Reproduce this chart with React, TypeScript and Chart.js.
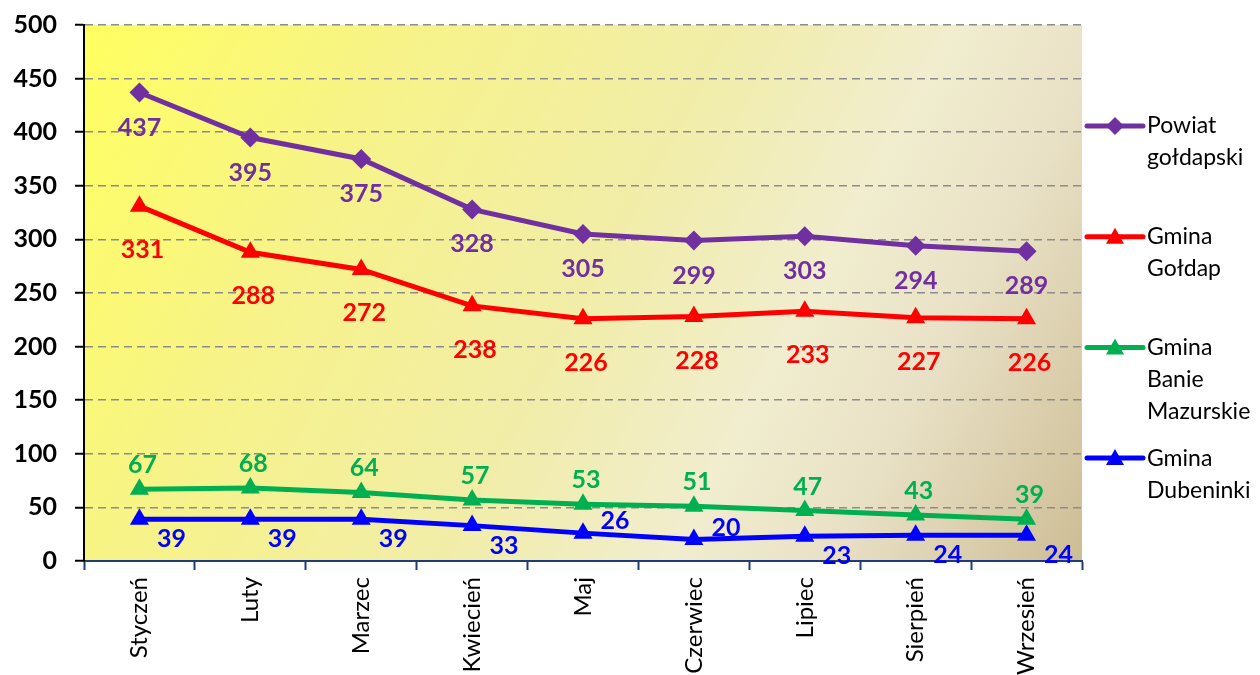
import React, { useEffect, useRef } from "react";
import { Chart, registerables } from "chart.js";

Chart.register(...registerables);

const categories = ["Styczeń", "Luty", "Marzec", "Kwiecień", "Maj", "Czerwiec", "Lipiec", "Sierpień", "Wrzesień"];
const powiat = [437, 395, 375, 328, 305, 299, 303, 294, 289];
const goldap = [331, 288, 272, 238, 226, 228, 233, 227, 226];
const banie = [67, 68, 64, 57, 53, 51, 47, 43, 39];
const dubeninki = [39, 39, 39, 33, 26, 20, 23, 24, 24];
const seriesNames = [["Powiat", "gołdapski"], ["Gmina", "Gołdap"], ["Gmina", "Banie", "Mazurskie"], ["Gmina", "Dubeninki"]];
const yMin = 0;
const yMax = 500;
const yStep = 50;

const FONT = "Lato, 'Open Sans', sans-serif";

// label placement per dataset (style)
const labelStyle = [
  { dx: 0, dy: 35, aboveIdx: [] as number[] },
  { dx: 3, dy: 44, aboveIdx: [] as number[] },
  { dx: 3, dy: -24, aboveIdx: [] as number[] },
  { dx: 32, dy: 20, aboveIdx: [4, 5] },
];

const bgPlugin = {
  id: "bgPlugin",
  beforeDraw(chart: any) {
    const { ctx, chartArea: a } = chart;
    const g = ctx.createLinearGradient(a.left, a.top, a.right, a.bottom);
    g.addColorStop(0, "#FFFF60");
    g.addColorStop(0.25, "#F7F388");
    g.addColorStop(0.5, "#F1EDA8");
    g.addColorStop(0.68, "#F1EDCF");
    g.addColorStop(0.8, "#E9E1C6");
    g.addColorStop(1, "#CDBD95");
    ctx.save();
    ctx.fillStyle = g;
    ctx.fillRect(a.left, a.top, a.right - a.left, a.bottom - a.top);
    ctx.restore();
  },
};

const labelPlugin = {
  id: "labelPlugin",
  afterDatasetsDraw(chart: any) {
    const ctx = chart.ctx;
    ctx.save();
    ctx.font = `bold 25px ${FONT}`;
    ctx.textAlign = "center";
    ctx.textBaseline = "middle";
    chart.data.datasets.forEach((ds: any, di: number) => {
      const meta = chart.getDatasetMeta(di);
      const st = labelStyle[di];
      ctx.fillStyle = ds.borderColor;
      meta.data.forEach((pt: any, i: number) => {
        const above = st.aboveIdx.includes(i);
        const dy = above ? -12 : st.dy;
        ctx.fillText(String(ds.data[i]), pt.x + st.dx, pt.y + dy);
      });
    });
    ctx.restore();
  },
};

const legendPlugin = {
  id: "legendPlugin",
  afterDraw(chart: any) {
    const ctx = chart.ctx;
    const x0 = 1087;
    const x1 = 1143;
    const tx = 1147;
    ctx.save();
    chart.data.datasets.forEach((ds: any, di: number) => {
      const y = 126 + di * 110.7;
      ctx.strokeStyle = ds.borderColor;
      ctx.lineWidth = 5;
      ctx.lineCap = "round";
      ctx.beginPath();
      ctx.moveTo(x0, y);
      ctx.lineTo(x1, y);
      ctx.stroke();
      ctx.fillStyle = ds.borderColor;
      ctx.beginPath();
      const cx = (x0 + x1) / 2;
      if (ds.pointStyle === "rectRot") {
        const r = 9;
        ctx.moveTo(cx, y - r);
        ctx.lineTo(cx + r, y);
        ctx.lineTo(cx, y + r);
        ctx.lineTo(cx - r, y);
      } else {
        ctx.moveTo(cx, y - 9);
        ctx.lineTo(cx + 9, y + 7);
        ctx.lineTo(cx - 9, y + 7);
      }
      ctx.closePath();
      ctx.fill();
      ctx.fillStyle = "#000";
      ctx.font = `23px ${FONT}`;
      ctx.textAlign = "left";
      ctx.textBaseline = "middle";
      seriesNames[di].forEach((line, li) => {
        ctx.fillText(line, tx, y + li * 32);
      });
    });
    ctx.restore();
  },
};

export default function App() {
  const ref = useRef<HTMLCanvasElement>(null);
  useEffect(() => {
    if (!ref.current) return;
    const mk = (data: number[], color: string, style: string, idx: number) => ({
      label: seriesNames[idx].join(" "),
      data,
      borderColor: color,
      backgroundColor: color,
      borderWidth: 5,
      pointStyle: style,
      pointRadius: style === "rectRot" ? 10 : 11,
      pointHoverRadius: 11,
      pointBorderWidth: 0,
      tension: 0,
    });
    const chart = new Chart(ref.current, {
      type: "line",
      data: {
        labels: categories,
        datasets: [
          mk(powiat, "#7030A0", "rectRot", 0),
          mk(goldap, "#FF0000", "triangle", 1),
          mk(banie, "#00B050", "triangle", 2),
          mk(dubeninki, "#0000FF", "triangle", 3),
        ],
      },
      options: {
        responsive: false,
        animation: false,
        layout: { padding: { left: 0, right: 178, top: 25, bottom: 0 } },
        plugins: { legend: { display: false }, tooltip: { enabled: false } },
        scales: {
          x: {
            offset: true,
            grid: {
              offset: true,
              drawOnChartArea: false,
              drawTicks: true,
              tickLength: 9,
              tickColor: "#1F3C78",
              tickWidth: 2,
            },
            border: { display: true, color: "#1F3C78", width: 2 },
            ticks: {
              color: "#000",
              font: { family: FONT, size: 24 },
              minRotation: 90,
              maxRotation: 90,
              padding: 7,
              autoSkip: false,
            },
            afterFit(scale: any) {
              scale.height = 114;
            },
          },
          y: {
            min: yMin,
            max: yMax,
            ticks: {
              stepSize: yStep,
              color: "#000",
              font: { family: FONT, size: 25, weight: "bold" },
              padding: 18,
            },
            grid: {
              color: "#8C8C8C",
              lineWidth: 1.5,
              tickColor: "#000",
              tickLength: 9,
              tickWidth: 2,
            },
            border: { display: true, color: "#000", width: 2, dash: [8, 5] },
            afterFit(scale: any) {
              scale.width = 84;
              scale.paddingTop = 12;
              scale.paddingBottom = 12;
            },
          },
        },
      },
      plugins: [bgPlugin, labelPlugin, legendPlugin],
    } as any);
    return () => chart.destroy();
  }, []);
  return (
    <div style={{ position: "fixed", left: 0, top: 0, width: 1260, height: 675, background: "#fff" }}>
      <canvas ref={ref} width={1260} height={675} />
    </div>
  );
}
